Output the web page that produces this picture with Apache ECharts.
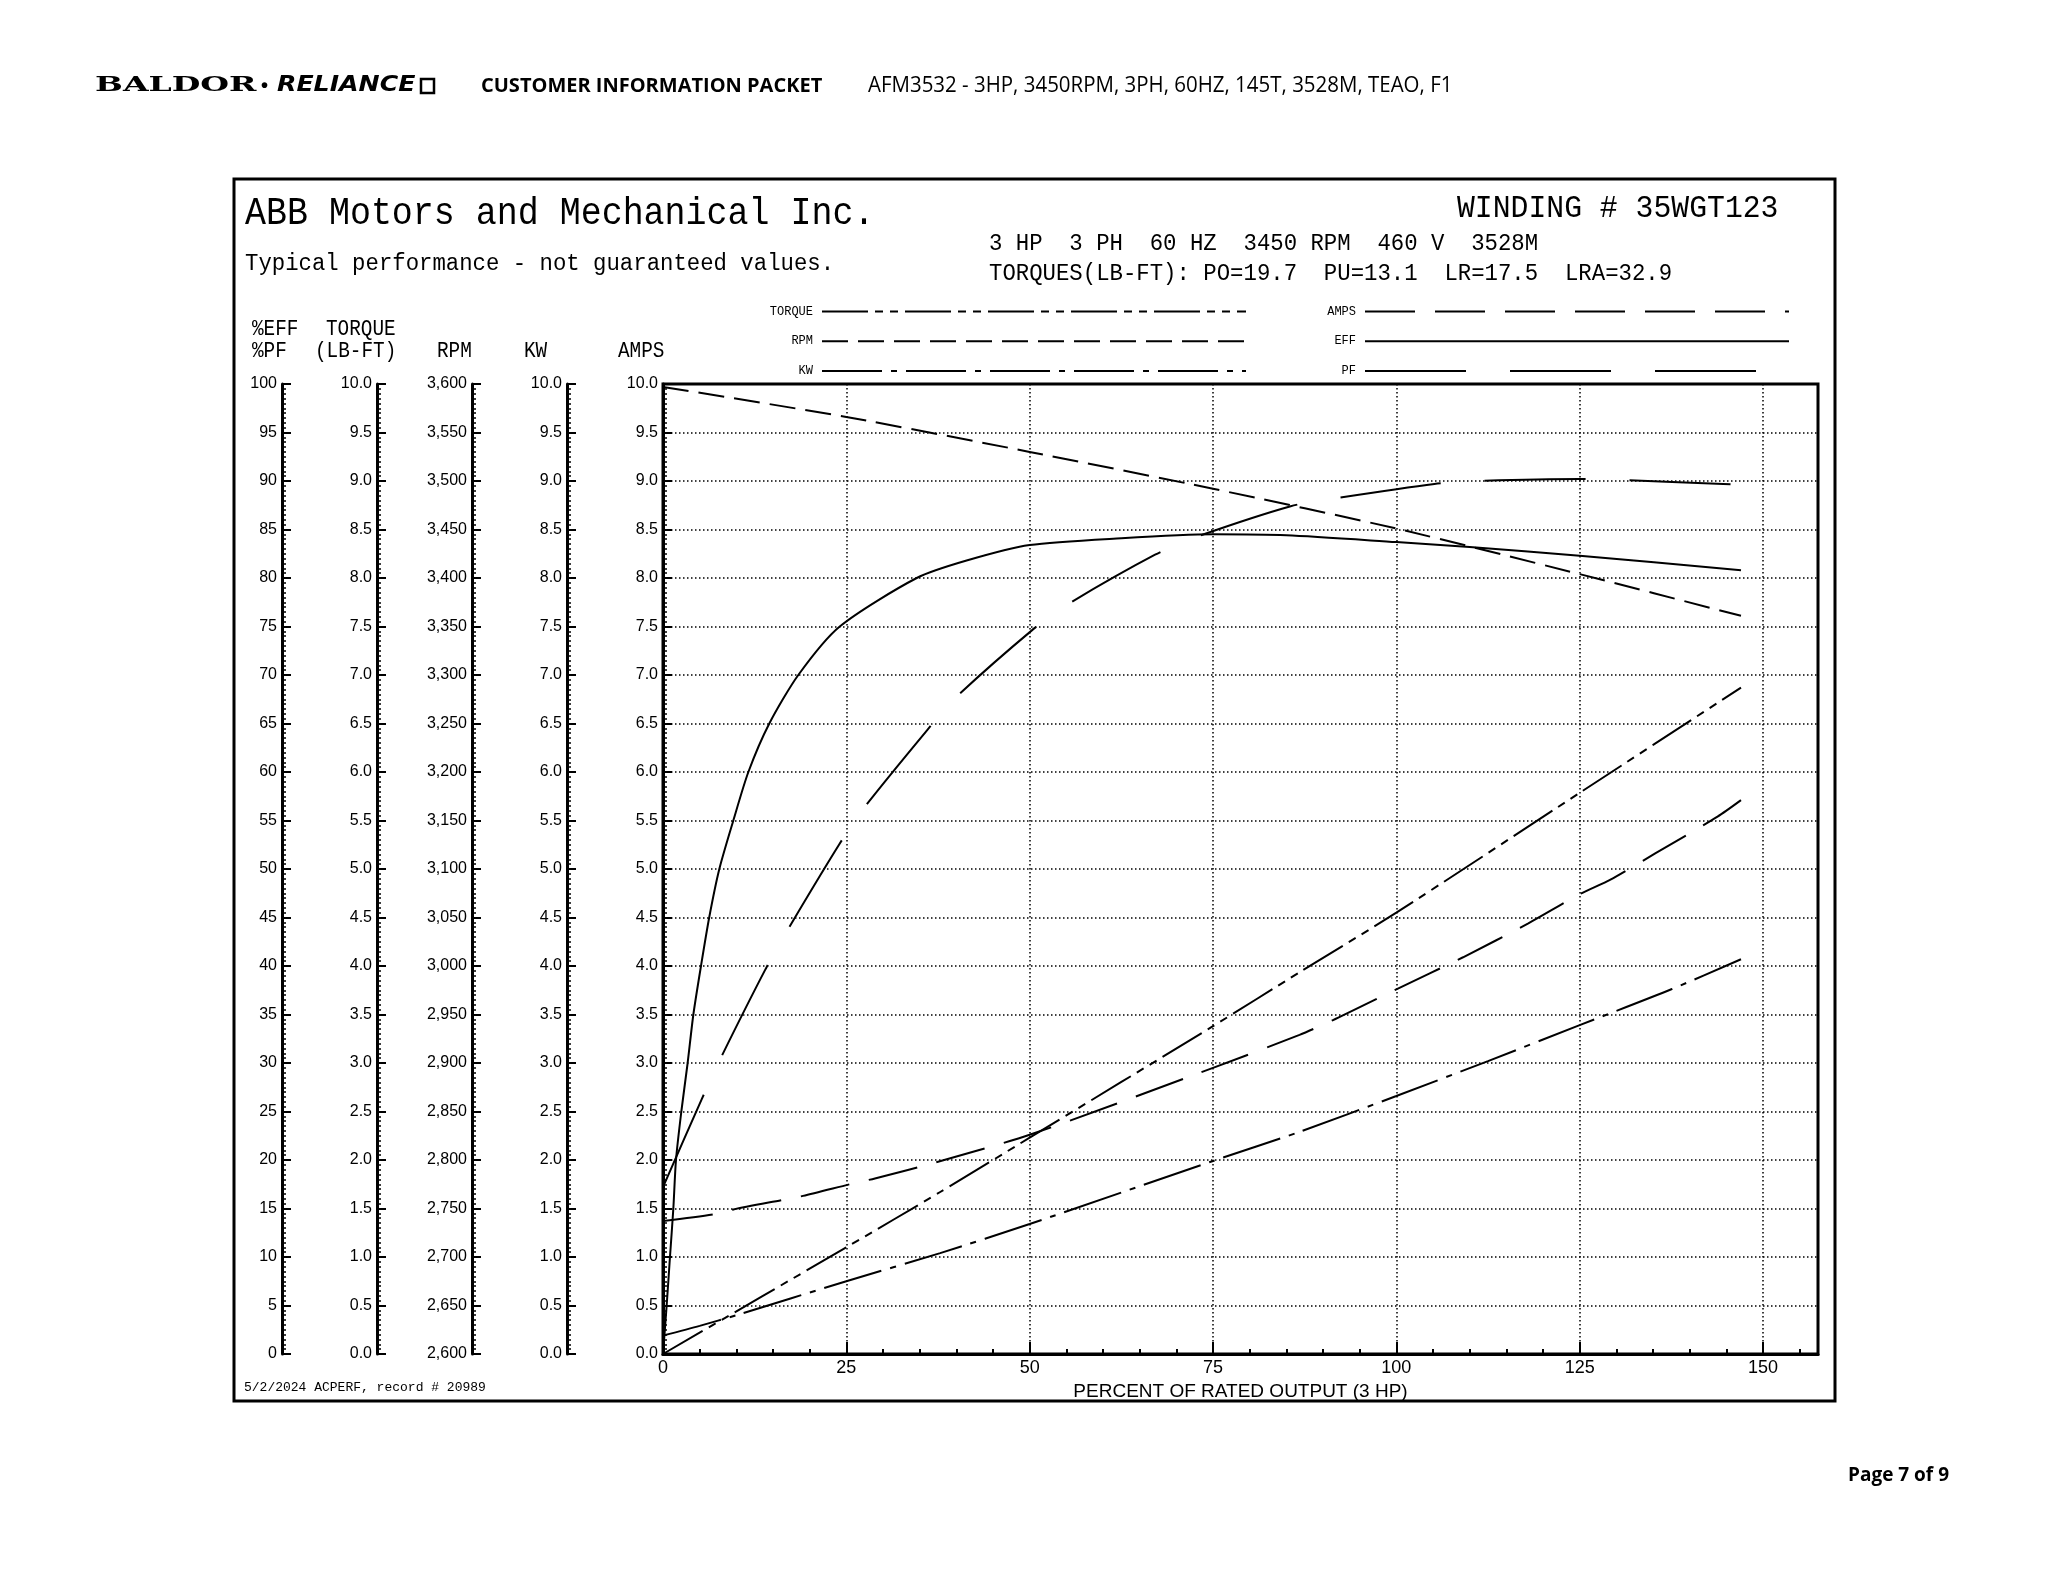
<!DOCTYPE html>
<html><head><meta charset="utf-8">
<script src="https://cdn.jsdelivr.net/npm/echarts@6/dist/echarts.min.js"></script>
<style>html,body{margin:0;padding:0;background:#fff}#c{width:2048px;height:1582px}</style>
</head><body><div id="c"></div>
<script>
// ---- data (x = percent of rated output) ----
const effX = [0,0.5,0.95,1.41,1.77,2.5,3.36,4.14,5.18,6.3,7.68,9.59,11.64,14.5,18.45,24.1,34.6,41.4,50,62.5,75,85,100,110,125,147];
const effY = [0,5,10,15,20,25,30,35,40,45,50,55,60,65,70,75,80,81.8,83.4,84.1,84.5,84.4,83.7,83.2,82.3,80.8];
const pfX = [0,5.3,7.8,14,16.9,24,27.3,36,39.8,50.3,55,67.1,72.6,85.6,91.5,105.2,111,125,130.6,144.6,147];
const pfY = [17.2,26.3,30.4,39.7,43.6,52.5,56.2,64.3,67.6,74.6,77.2,82.4,84.2,87.4,88.2,89.7,90.0,90.2,90.1,89.7,89.6];
const rpmX = [0,25,50,75,100,125,147];
const rpmY = [3597,3566,3530,3492,3451,3404,3361];
const torqueX = [0,25,37.8,50,75,86.8,100,125,147];
const torqueY = [0,1.10,1.67,2.23,3.38,3.935,4.55,5.785,6.87];
const kwX = [0,5,10,25,37.8,50,75,86.8,100,112.5,125,137.5,147];
const kwY = [0.19,0.29,0.40,0.75,1.04,1.34,1.99,2.29,2.66,3.02,3.39,3.76,4.07];
const ampsX = [0,6.9,9.6,16.4,19.1,26,28.9,35.5,50,75,86.8,91.3,100,109.1,118,125,129.2,135.3,143.8,147];
const ampsY = [1.37,1.44,1.49,1.59,1.63,1.76,1.81,1.94,2.26,2.95,3.29,3.44,3.76,4.09,4.44,4.74,4.89,5.16,5.54,5.71];
const xTicks = [0,25,50,75,100,125,150];

const pairs = (xs, ys) => xs.map((x, i) => [x, ys[i]]);
const BLACK = '#000';
const SANS = "'Liberation Sans', Arial, sans-serif";
const NARROW = "'Liberation Sans Narrow', 'Liberation Sans', Arial, sans-serif";
const MONO = "'Liberation Mono', 'Courier New', monospace";
const dotted = {color: BLACK, width: 1.5, type: [1.5, 2.5]};

function yAx(min, max, interval, offset, fmt, split) {
  return {
    type: 'value', position: 'left', offset, min, max, interval,
    axisLine: {show: true, onZero: false, lineStyle: {color: BLACK, width: 3}},
    axisTick: {show: true, inside: true, length: 9, lineStyle: {color: BLACK, width: 2}},
    minorTick: {show: true, splitNumber: 10, length: 4, lineStyle: {color: BLACK, width: 1.5}},
    axisLabel: {show: true, margin: 5, color: BLACK, fontFamily: SANS, fontSize: 16, formatter: fmt},
    splitLine: {show: !!split, lineStyle: dotted},
    minorSplitLine: {show: false}
  };
}
const f1 = v => v.toFixed(1);
const f0 = v => String(Math.round(v));
const fRpm = v => String(Math.round(v)).replace(/\B(?=(\d{3})+(?!\d))/g, ',');

function txt(x, y, text, size, family, opt) {
  opt = opt || {};
  return {type: 'text', x, y, scaleX: opt.sx || 1, silent: true,
    style: {text, fontSize: size, fontFamily: family, fontWeight: opt.w || 'normal',
      fontStyle: opt.it || 'normal', fill: BLACK, align: opt.align || 'left', verticalAlign: 'middle'}};
}

const graphic = [
  {type: 'rect', shape: {x: 234, y: 179, width: 1601, height: 1222}, style: {fill: 'transparent', stroke: BLACK, lineWidth: 3}, silent: true},
  // page header
  txt(95, 86, 'BALDOR', 20, "'DejaVu Serif', serif", {w: 'bold', sx: 1.65}),
  txt(261, 86, '•', 20, SANS, {w: 'bold'}),
  txt(277, 86, 'RELIANCE', 21, "'DejaVu Sans', sans-serif", {w: 'bold', it: 'italic', sx: 1.2}),
  {type: 'rect', shape: {x: 421, y: 79, width: 13, height: 14}, style: {fill: 'transparent', stroke: BLACK, lineWidth: 2.5}, silent: true},
  txt(481, 86, 'CUSTOMER INFORMATION PACKET', 20, "'Open Sans', sans-serif", {w: 'bold'}),
  txt(868, 86, 'AFM3532 - 3HP, 3450RPM, 3PH, 60HZ, 145T, 3528M, TEAO, F1', 21, "'Open Sans', sans-serif", {w: 'normal', sx: 0.975}),
  txt(1848, 1476, 'Page 7 of 9', 19, "'Open Sans', sans-serif", {w: 'bold'}),
  // chart header
  txt(245, 214, 'ABB Motors and Mechanical Inc.', 38, MONO, {sx: 0.92}),
  txt(245, 264, 'Typical performance - not guaranteed values.', 23, MONO, {sx: 0.97}),
  txt(1457, 209, 'WINDING # 35WGT123', 32, MONO, {sx: 0.93}),
  txt(989, 244, '3 HP  3 PH  60 HZ  3450 RPM  460 V  3528M', 24, MONO, {sx: 0.93}),
  txt(989, 274, 'TORQUES(LB-FT): PO=19.7  PU=13.1  LR=17.5  LRA=32.9', 24, MONO, {sx: 0.93}),
  // axis column headers
  txt(252, 329, '%EFF', 22, MONO, {sx: 0.88}),
  txt(252, 351, '%PF', 22, MONO, {sx: 0.88}),
  txt(326, 329, 'TORQUE', 22, MONO, {sx: 0.88}),
  txt(315, 351, '(LB-FT)', 22, MONO, {sx: 0.88}),
  txt(437, 351, 'RPM', 22, MONO, {sx: 0.88}),
  txt(524, 351, 'KW', 22, MONO, {sx: 0.88}),
  txt(618, 351, 'AMPS', 22, MONO, {sx: 0.88}),
  // footer
  txt(244, 1388, '5/2/2024 ACPERF, record # 20989', 13, MONO)
];

function line(name, yIdx, data, dash, smooth) {
  return {name, type: 'line', xAxisIndex: 0, yAxisIndex: yIdx, data,
    symbol: 'none', smooth: smooth === undefined ? 0.25 : smooth,
    lineStyle: {color: BLACK, width: 2, type: dash}, silent: true, z: 5};
}

const legendCommon = {orient: 'vertical', top: 305, align: 'right',
  itemWidth: 424, itemHeight: 16, itemGap: 17, padding: 0, selectedMode: false,
  itemStyle: {opacity: 0}, textStyle: {fontFamily: MONO, fontSize: 12, color: BLACK, padding: [0, 4, 0, 0]}};

const option = {
  animation: false,
  backgroundColor: '#fff',
  grid: {left: 663, top: 384, width: 1155, height: 970, show: true, borderColor: BLACK, borderWidth: 3, backgroundColor: 'transparent'},
  xAxis: [
    {type: 'value', min: 0, max: 157.5, interval: 25, position: 'bottom',
      axisLine: {show: true, onZero: false, lineStyle: {color: BLACK, width: 3}},
      axisTick: {show: true, inside: true, length: 12, lineStyle: {color: BLACK, width: 2}},
      axisLabel: {margin: 5, fontSize: 18, fontFamily: NARROW, color: BLACK,
        formatter: v => xTicks.indexOf(v) >= 0 ? String(v) : ''},
      splitLine: {show: true, lineStyle: dotted},
      name: 'PERCENT OF RATED OUTPUT (3 HP)', nameLocation: 'middle', nameGap: 16,
      nameTextStyle: {fontSize: 19, fontFamily: NARROW, color: BLACK}},
    {type: 'value', min: 0, max: 157.5, interval: 5, position: 'bottom',
      axisLine: {show: false},
      axisTick: {show: true, inside: true, length: 5, lineStyle: {color: BLACK, width: 2}},
      axisLabel: {show: false}, splitLine: {show: false}}
  ],
  yAxis: [
    yAx(0, 100, 5, 381, f0, false),        // %EFF / %PF
    yAx(0, 10, 0.5, 286, f1, false),       // TORQUE
    yAx(2600, 3600, 50, 191, fRpm, false), // RPM
    yAx(0, 10, 0.5, 96, f1, false),        // KW
    yAx(0, 10, 0.5, 0, f1, true)           // AMPS
  ],
  legend: [
    Object.assign({data: ['TORQUE', 'RPM', 'KW'], right: 801}, legendCommon),
    Object.assign({data: ['AMPS', 'EFF', 'PF'], right: 258}, legendCommon)
  ],
  series: [
    line('TORQUE', 1, pairs(torqueX, torqueY), [46, 7, 8, 7, 8, 7]),
    line('RPM', 2, pairs(rpmX, rpmY), [26, 10]),
    line('KW', 3, pairs(kwX, kwY), [60, 9, 6, 9]),
    line('AMPS', 4, pairs(ampsX, ampsY), [50, 20]),
    line('EFF', 0, pairs(effX, effY), 'solid'),
    line('PF', 0, pairs(pfX, pfY), [101, 44])
  ],
  graphic: {elements: graphic}
};
const chart = echarts.init(document.getElementById('c'), null, {renderer: 'canvas', width: 2048, height: 1582});
chart.setOption(option);
</script></body></html>
